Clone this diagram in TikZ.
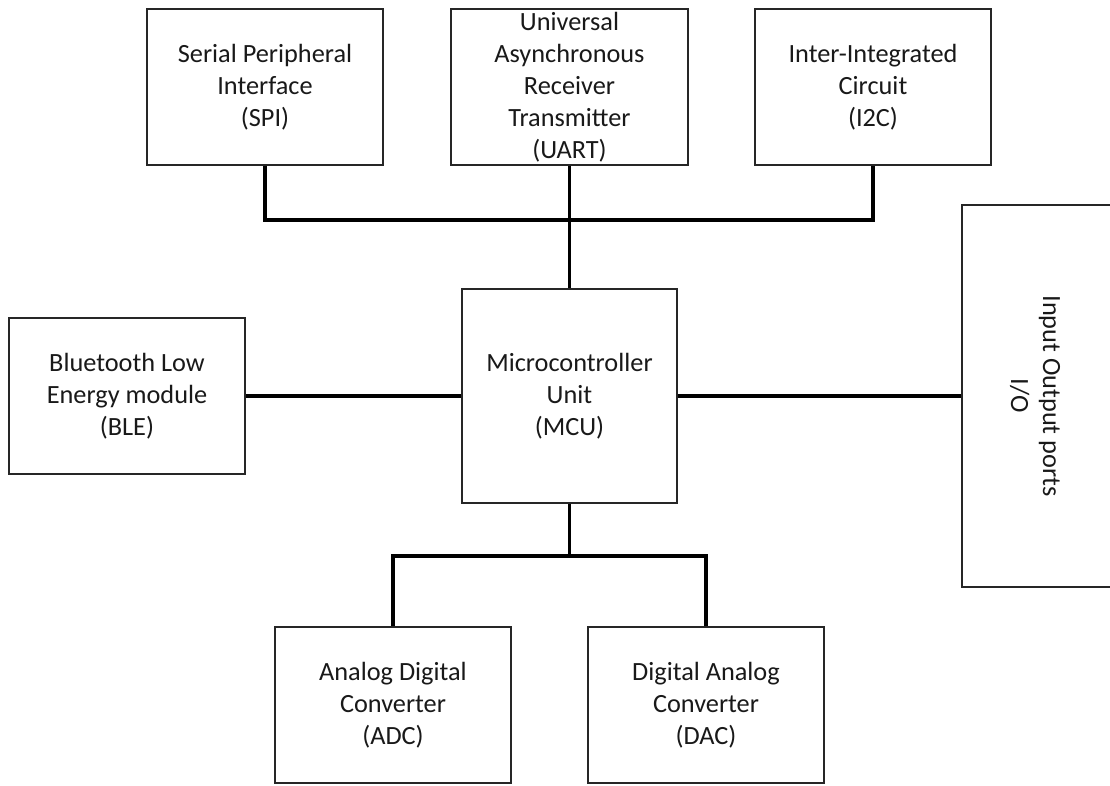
\documentclass[tikz,border=0pt]{standalone}
\usepackage{fontspec}
\setmainfont{Carlito}
\begin{document}
\begin{tikzpicture}[x=1pt,y=-1pt,
  blk/.style={draw=black!85, line width=1.6pt, fill=white, align=center, inner sep=0pt,
    font=\fontsize{26.3}{32}\selectfont, text=black!90},
  bus/.style={line width=3.8pt, black}]
\useasboundingbox (0,0) rectangle (1110,785);
\node[blk, minimum width=236pt, minimum height=156pt] (spi) at (265,87) {Serial Peripheral\\Interface\\(SPI)};
\node[blk, minimum width=237pt, minimum height=156pt] (uart) at (569.5,87) {Universal\\Asynchronous\\Receiver\\Transmitter\\(UART)};
\node[blk, minimum width=236pt, minimum height=156pt] (i2c) at (873,87) {Inter-Integrated\\Circuit\\(I2C)};
\node[blk, minimum width=236pt, minimum height=156pt] (ble) at (127,396) {Bluetooth Low\\Energy module\\(BLE)};
\node[blk, minimum width=215pt, minimum height=214pt] (mcu) at (569.5,396) {Microcontroller\\Unit\\(MCU)};
\node[blk, minimum width=236pt, minimum height=156pt] (adc) at (393,705) {Analog Digital\\Converter\\(ADC)};
\node[blk, minimum width=236pt, minimum height=156pt] (dac) at (706,705) {Digital Analog\\Converter\\(DAC)};
\node[blk, minimum width=200pt, minimum height=382pt, anchor=west] (io) at (961,396) {};
\node[align=center, rotate=-90, font=\fontsize{26.3}{32}\selectfont, text=black!90] (iot) at (1035,396) {Input Output ports\\I/O};
\coordinate (busL) at (265,220);
\coordinate (busR) at (873,220);
\coordinate (lowM) at (569.5,556);
\coordinate (lowL) at (393,556);
\coordinate (lowR) at (706,556);
\draw[bus] (spi.south) -- (busL) -- (busR) -- (i2c.south);
\draw[bus] (uart.south) -- (mcu.north);
\draw[bus] (ble.east) -- (mcu.west);
\draw[bus] (mcu.east) -- (io.west);
\draw[bus] (mcu.south) -- (lowM);
\draw[bus] (adc.north) -- (lowL) -- (lowR) -- (dac.north);
\end{tikzpicture}
\end{document}
